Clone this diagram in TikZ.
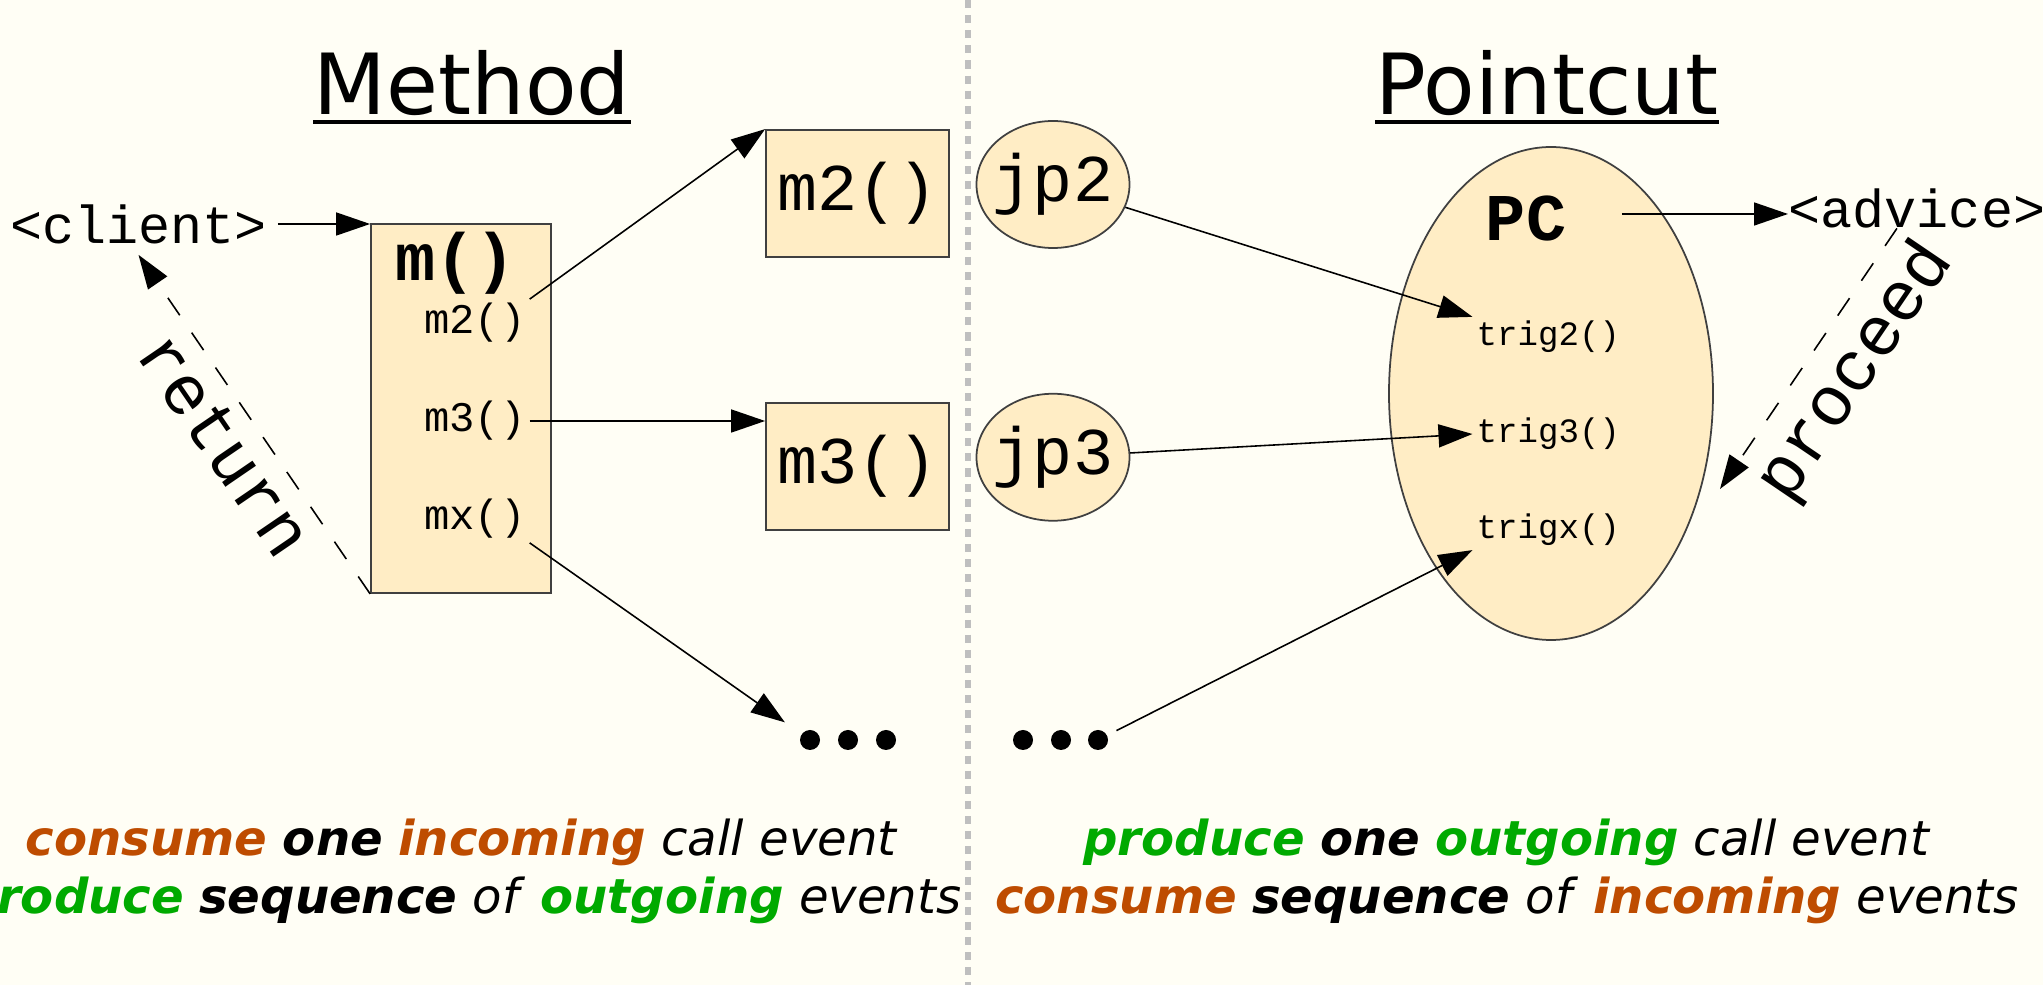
\documentclass[tikz,border=0pt]{standalone}
\usepackage{fontspec}
\usepackage{xcolor}
\usepackage{tikz}
\usetikzlibrary{arrows.meta, positioning, shapes.geometric}
\setmainfont{DejaVu Sans}[ItalicFont={DejaVu Sans Oblique}, BoldFont={DejaVu Sans Bold}, BoldItalicFont={DejaVu Sans Bold Oblique}]
\setmonofont{Liberation Mono}
\definecolor{paper}{RGB}{255,254,245}
\definecolor{peach}{RGB}{255,237,197}
\definecolor{rust}{RGB}{190,76,0}
\definecolor{leaf}{RGB}{0,170,0}
\newcommand{\evword}[2][black]{\textcolor{#1}{\textbf{\textit{#2}}}}
\tikzset{
  blk/.style={rectangle, draw=black!75, fill=peach, line width=0.5pt, inner sep=0pt},
  codebox/.style={blk, minimum width=1.83cm, minimum height=1.27cm,
                  font=\ttfamily\fontsize{19}{22}\selectfont},
  jpnode/.style={ellipse, draw=black!75, fill=peach, line width=0.5pt, inner sep=-2mm,
                 minimum width=1.53cm, minimum height=1.27cm, font=\ttfamily\fontsize{19}{22}\selectfont},
  boldname/.style={inner sep=0pt, font=\ttfamily\bfseries\fontsize{19}{22}\selectfont},
  call/.style={anchor=west, inner sep=1pt, font=\ttfamily\fontsize{12}{14}\selectfont},
  trig/.style={anchor=west, inner sep=1pt, font=\ttfamily\fontsize{9.7}{12}\selectfont},
  actor/.style={inner sep=3pt, font=\ttfamily\fontsize{15.2}{18}\selectfont},
  headline/.style={anchor=base, inner sep=0pt, font=\fontsize{24}{28}\selectfont},
  dot/.style={circle, fill=black, minimum size=0.2cm, inner sep=0pt},
  pipe/.style={-{Triangle[length=3.4mm, width=2.3mm]}, line width=0.45pt, draw=black},
  backcall/.style={pipe, dash pattern=on 6pt off 6pt},
  slant/.style={inner sep=1pt, font=\ttfamily\fontsize{20}{24}\selectfont},
  summary/.style={align=center, font=\fontsize{13.7}{16.5}\selectfont},
}
\begin{document}
\begin{tikzpicture}[node distance=1.44cm]
    \fill[paper] (0,0) rectangle (20.43,-9.85);
    \useasboundingbox (0,0) rectangle (20.43,-9.85);
    \draw[black!25, line width=1.45pt, dash pattern=on 2.3pt off 2pt] (9.68,0) -- (9.68,-9.85);

    \node[headline] (mhead) at (4.72,-1.15) {Method};
    \node[headline] (phead) at (15.47,-1.15) {Pointcut};
    \foreach \h in {mhead, phead}
        \draw[line width=1.1pt] ([yshift=-0.07cm]\h.base west) -- ([yshift=-0.07cm]\h.base east);

    \node[blk, minimum width=1.80cm, minimum height=3.69cm] (mbox) at (4.61,-4.085) {};
    \node[boldname, anchor=west] (mname) at (3.95,-2.63) {m()};
    \node[call] (cm2) at (4.20,-3.23) {m2()};
    \node[call] (cm3) at (4.20,-4.21) {m3()};
    \node[call] (cmx) at (4.20,-5.19) {mx()};

    \node[codebox] (m2box) at (8.575,-1.935) {m2()};
    \node[codebox, below=of m2box] (m3box) {m3()};
    \node[jpnode] (jp2) at (10.53,-1.845) {jp2};
    \node[jpnode, below=of jp2] (jp3) {jp3};

    \node[ellipse, draw=black!75, fill=peach, line width=0.5pt, minimum width=3.24cm, minimum height=4.93cm] (pc) at (15.51,-3.935) {};
    \node[boldname] (pcname) at (15.26,-2.19) {PC};
    \node[trig] (trig2) at (14.725,-3.37) {trig2()};
    \node[trig] (trig3) at (14.725,-4.34) {trig3()};
    \node[trig] (trigx) at (14.725,-5.30) {trigx()};

    \node[actor] (client) at (1.385,-2.24) {<client>};
    \node[actor, inner sep=0pt, anchor=west] (advice) at (17.88,-2.08) {<advice>};
    \coordinate (procend) at (17.20,-4.89);

    \foreach \i/\x in {1/8.10, 2/8.48, 3/8.86}
        \node[dot] (ldot\i) at (\x,-7.40) {};
    \foreach \i/\x in {1/10.23, 2/10.61, 3/10.98}
        \node[dot] (rdot\i) at (\x,-7.40) {};

    \draw[pipe] (client.east) -- (client.east -| mbox.west);
    \draw[pipe] (cm2.north east) -- (m2box.north west);
    \draw[pipe] (cm3.east) -- (cm3.east -| m3box.west);
    \draw[pipe, shorten >=0.2cm] (cmx.south east) -- (ldot1);
    \draw[pipe] (jp2) -- (trig2.north west);
    \draw[pipe] (jp3) -- (trig3.west);
    \draw[pipe, shorten <=0.1cm] (rdot3) -- (trigx.south west);
    \draw[pipe, shorten <=0.55cm] ([yshift=0.05cm]pcname.east) -- ([yshift=0.05cm]pcname.east -| advice.west);
    \draw[backcall] (mbox.south west) -- node[midway, sloped, below=0.08cm, slant] (ret) {return} (client.south);
    \draw[backcall] ([xshift=-0.2cm]advice.south) -- node[pos=0.45, sloped, below=0.1cm, slant] (proc) {proceed} (procend);

    \node[summary] (mtext) at (4.62,-8.71) {\evword[rust]{consume} \evword{one} \evword[rust]{incoming} \textit{call event}\\
        \evword[leaf]{produce} \evword{sequence} \textit{of} \evword[leaf]{outgoing} \textit{events}};
    \node[summary] (ptext) at (15.07,-8.71) {\evword[leaf]{produce} \evword{one} \evword[leaf]{outgoing} \textit{call event}\\
        \evword[rust]{consume} \evword{sequence} \textit{of} \evword[rust]{incoming} \textit{events}};
\end{tikzpicture}
\end{document}
